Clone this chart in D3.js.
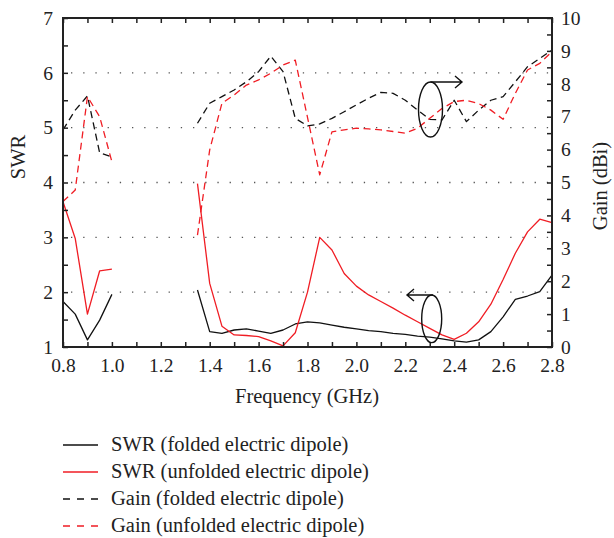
<!DOCTYPE html>
<html><head><meta charset="utf-8">
<script src="https://cdn.jsdelivr.net/npm/d3@7"></script>
<style>
body{margin:0;background:#fff;}
text{font-family:"Liberation Serif","Times New Roman","DejaVu Serif",serif;fill:#222;}
</style></head>
<body><svg id="c" width="614" height="538"></svg>
<script>
// ---- data ----
const freqA = [0.8, 0.85, 0.9, 0.95, 1.0];
const freqB = [1.35,1.4,1.45,1.5,1.55,1.6,1.65,1.7,1.75,1.8,1.85,1.9,1.95,2.0,2.05,2.1,2.15,2.2,2.25,2.3,2.35,2.4,2.45,2.5,2.55,2.6,2.65,2.7,2.75,2.8];

const swrFoldedA   = [1.83, 1.60, 1.13, 1.49, 1.96];
const swrFoldedB   = [2.04,1.28,1.25,1.31,1.33,1.29,1.25,1.31,1.42,1.46,1.44,1.40,1.36,1.33,1.30,1.28,1.25,1.23,1.20,1.18,1.15,1.11,1.09,1.13,1.28,1.55,1.87,1.93,2.01,2.31];
const swrUnfoldedA = [3.65, 2.98, 1.60, 2.39, 2.42];
const swrUnfoldedB = [3.98,2.16,1.38,1.22,1.21,1.19,1.11,1.02,1.26,2.00,3.00,2.77,2.34,2.11,1.95,1.83,1.71,1.58,1.46,1.34,1.22,1.14,1.25,1.46,1.78,2.23,2.71,3.10,3.33,3.27];
const gainFoldedA   = [6.6, 7.2, 7.63, 5.9, 5.78];
const gainFoldedB   = [6.8,7.41,7.61,7.81,8.06,8.37,8.84,8.37,6.95,6.72,6.78,6.95,7.15,7.36,7.56,7.74,7.71,7.5,7.2,6.92,6.9,7.5,6.85,7.2,7.5,7.61,8.06,8.52,8.77,9.03];
const gainUnfoldedA = [4.42, 4.77, 7.61, 7.0, 5.63];
const gainUnfoldedB = [3.4,5.99,7.41,7.66,7.96,8.12,8.32,8.57,8.72,6.98,5.23,6.54,6.6,6.65,6.63,6.6,6.55,6.5,6.65,6.95,7.25,7.46,7.5,7.4,7.2,6.92,7.71,8.42,8.62,8.98];

const xTicks = d3.range(8, 29).map(d => d / 10);
const swrTicks = d3.range(2, 15).map(d => d / 2);
const gainTicks = d3.range(0, 21).map(d => d / 2);

const legendItems = [
  {label: "SWR (folded electric dipole)", color: "#111", dash: null},
  {label: "SWR (unfolded electric dipole)", color: "#f01d24", dash: null},
  {label: "Gain (folded electric dipole)", color: "#111", dash: "7,7"},
  {label: "Gain (unfolded electric dipole)", color: "#f01d24", dash: "7,7"}
];

// ---- layout ----
const L = 63, R = 552, T = 18, B = 347;
const FONT = '"Liberation Serif","Times New Roman",serif';
const svg = d3.select("#c");
const x = d3.scaleLinear().domain([0.8, 2.8]).range([L, R]);
const yS = d3.scaleLinear().domain([1, 7]).range([B, T]);
const yG = d3.scaleLinear().domain([0, 10]).range([B, T]);

// grid (dotted) at SWR integers
svg.append("g").selectAll("line").data([2,3,4,5,6]).join("line")
  .attr("x1", L + 8).attr("x2", R).attr("y1", d => yS(d)).attr("y2", d => yS(d))
  .attr("stroke", "#555").attr("stroke-width", 1.3).attr("stroke-dasharray", "1.3,10.9");

// series
const RED = "#f01d24", BLK = "#111";
function draw(fr, vals, y, color, dash) {
  const line = d3.line().x((d, i) => x(fr[i])).y(d => y(d));
  svg.append("path").attr("d", line(vals)).attr("fill", "none")
    .attr("stroke", color).attr("stroke-width", 1.3)
    .attr("stroke-dasharray", dash).attr("stroke-linejoin", "round");
}
draw(freqA, gainFoldedA, yG, BLK, "7,4.5");
draw(freqB, gainFoldedB, yG, BLK, "7,4.5");
draw(freqA, gainUnfoldedA, yG, RED, "7,4.5");
draw(freqB, gainUnfoldedB, yG, RED, "7,4.5");
draw(freqA, swrFoldedA, yS, BLK, null);
draw(freqB, swrFoldedB, yS, BLK, null);
draw(freqA, swrUnfoldedA, yS, RED, null);
draw(freqB, swrUnfoldedB, yS, RED, null);

// axes
function styleAxis(g) {
  g.select(".domain").remove();
  g.attr("font-family", FONT).attr("font-size", 19.5);
  g.selectAll(".tick line").attr("stroke", "#222").attr("stroke-width", 1.5);
  g.selectAll("text").attr("font-size", 19.5).attr("font-family", FONT).attr("fill", "#222");
}
const fmtX = d => (Math.round(d * 10) % 2 === 0) ? d.toFixed(1) : "";
svg.append("g").attr("transform", `translate(0,${B})`)
  .call(d3.axisBottom(x).tickValues(xTicks).tickFormat(fmtX).tickSize(-5).tickPadding(11)).call(styleAxis);
svg.append("g").attr("transform", `translate(0,${T})`)
  .call(d3.axisTop(x).tickValues(xTicks).tickFormat("").tickSize(-5)).call(styleAxis);
svg.append("g").attr("transform", `translate(${L},0)`)
  .call(d3.axisLeft(yS).tickValues(swrTicks).tickFormat(d => Number.isInteger(d) ? d : "").tickSize(-5).tickPadding(10)).call(styleAxis);
svg.append("g").attr("transform", `translate(${R},0)`)
  .call(d3.axisRight(yG).tickValues(gainTicks).tickFormat(d => Number.isInteger(d) ? d : "").tickSize(-5).tickPadding(9)).call(styleAxis);

// frame
svg.append("rect").attr("x", L).attr("y", T).attr("width", R - L).attr("height", B - T)
  .attr("fill", "none").attr("stroke", "#222").attr("stroke-width", 2);

// axis titles
svg.append("text").attr("x", 307).attr("y", 403).attr("text-anchor", "middle").attr("font-size", 20.5).text("Frequency (GHz)");
svg.append("text").attr("transform", "translate(25,157) rotate(-90)").attr("text-anchor", "middle").attr("font-size", 20.5).text("SWR");
svg.append("text").attr("transform", "translate(607,186) rotate(-90)").attr("text-anchor", "middle").attr("font-size", 20.5).text("Gain (dBi)");

// annotations: ellipses and arrows
const ann = svg.append("g").attr("stroke", "#111").attr("stroke-width", 1.4).attr("fill", "none");
ann.append("ellipse").attr("cx", 430.5).attr("cy", 109.5).attr("rx", 12).attr("ry", 27.5);
ann.append("path").attr("d", "M430.5,82 H462 M455,76 L462,82 L455,88");
ann.append("ellipse").attr("cx", 431.7).attr("cy", 318.8).attr("rx", 10).attr("ry", 23.8);
ann.append("path").attr("d", "M433,295 H407 M414,289 L407,295 L414,301");

// legend
const lg = svg.append("g");
legendItems.forEach((it, i) => {
  const yy = [445, 472, 499, 526][i];
  lg.append("line").attr("x1", 63).attr("x2", 98).attr("y1", yy).attr("y2", yy)
    .attr("stroke", it.color).attr("stroke-width", 1.3).attr("stroke-dasharray", it.dash);
  lg.append("text").attr("x", 111).attr("y", yy + 6).attr("font-size", 20.5).text(it.label);
});
</script></body></html>
